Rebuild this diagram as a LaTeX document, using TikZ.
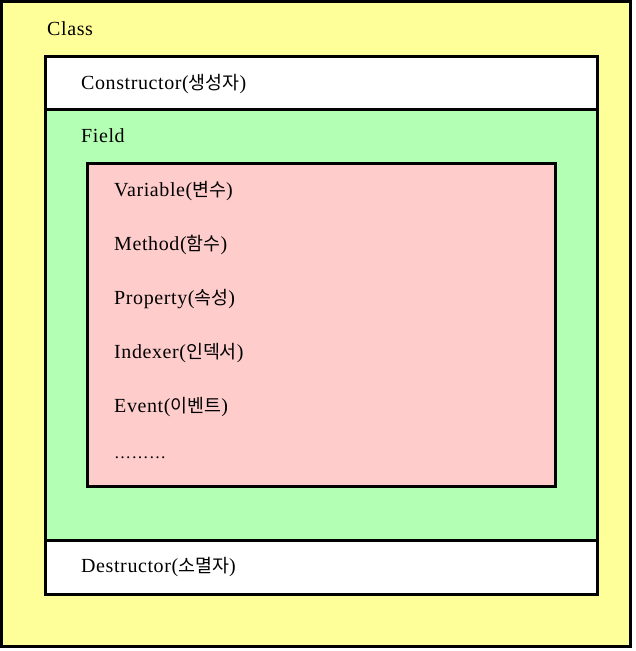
\documentclass[tikz,border=0pt]{standalone}
\usepackage{fontspec}
\setmainfont{Liberation Serif}[LetterSpace=3]
\newfontfamily\kr{Noto Sans CJK KR}[Scale=0.92]
\newcommand{\ko}[1]{{\kr #1}}

\begin{document}
\begin{tikzpicture}[x=1pt,y=-1pt,
  box/.style={draw=black,line width=3pt},
  lbl/.style={anchor=base west,inner sep=0pt,font=\fontsize{20}{24}\selectfont}]
\useasboundingbox (0,0) rectangle (635,651);
% outer class
\filldraw[box,fill={rgb,255:red,255;green,255;blue,153}] (1.5,1.5) rectangle (630,646.5);
% field area, constructor and destructor
\filldraw[box,fill={rgb,255:red,179;green,255;blue,179}] (45,56) rectangle (597,594);
\filldraw[box,fill=white] (45,56) rectangle (597,109);
\filldraw[box,fill=white] (45,540) rectangle (597,594);
% members
\filldraw[box,fill={rgb,255:red,255;green,204;blue,204}] (87,163) rectangle (555,486);

\node[lbl] (class) at (47,35) {Class};
\node[lbl] (ctor) at (81,89) {Constructor(\ko{생성자})};
\node[lbl] (field) at (81,142) {Field};
\node[lbl] (var) at (114,196) {Variable(\ko{변수})};
\node[lbl] (meth) at (114,250) {Method(\ko{함수})};
\node[lbl] (prop) at (114,304) {Property(\ko{속성})};
\node[lbl] (idx) at (114,358) {Indexer(\ko{인덱서})};
\node[lbl] (evt) at (114,412) {Event(\ko{이벤트})};
\node[lbl,font=\fontsize{17}{20}\selectfont] (more) at (114,458) {………};
\node[lbl] (dtor) at (81,572) {Destructor(\ko{소멸자})};
\end{tikzpicture}
\end{document}
